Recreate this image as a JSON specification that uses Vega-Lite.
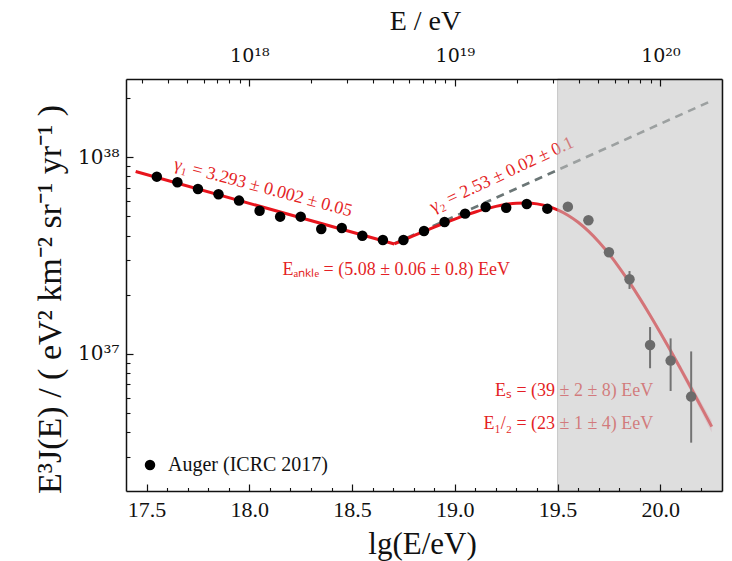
{
  "$schema": "https://vega.github.io/schema/vega-lite/v6.json",
  "width": 596,
  "height": 412,
  "autosize": {"type": "none"},
  "padding": {"left": 126, "top": 79, "right": 10, "bottom": 70},
  "background": "white",
  "config": {"view": {"stroke": null}, "font": "Liberation Serif"},
  "datasets": {
    "auger": [
      {"lg": 17.55, "flux": 7.97e37},
      {"lg": 17.65, "flux": 7.46e37},
      {"lg": 17.75, "flux": 6.90e37},
      {"lg": 17.85, "flux": 6.48e37},
      {"lg": 17.95, "flux": 6.02e37},
      {"lg": 18.05, "flux": 5.35e37},
      {"lg": 18.15, "flux": 4.99e37},
      {"lg": 18.25, "flux": 4.99e37},
      {"lg": 18.35, "flux": 4.32e37},
      {"lg": 18.45, "flux": 4.37e37},
      {"lg": 18.55, "flux": 3.99e37},
      {"lg": 18.65, "flux": 3.80e37},
      {"lg": 18.75, "flux": 3.80e37},
      {"lg": 18.85, "flux": 4.22e37},
      {"lg": 18.95, "flux": 4.69e37},
      {"lg": 19.05, "flux": 5.17e37},
      {"lg": 19.15, "flux": 5.59e37},
      {"lg": 19.25, "flux": 5.54e37},
      {"lg": 19.35, "flux": 5.79e37},
      {"lg": 19.45, "flux": 5.48e37},
      {"lg": 19.55, "flux": 5.61e37, "lo": 5.45e37, "hi": 5.77e37},
      {"lg": 19.65, "flux": 4.78e37, "lo": 4.62e37, "hi": 4.95e37},
      {"lg": 19.75, "flux": 3.29e37, "lo": 3.15e37, "hi": 3.44e37},
      {"lg": 19.85, "flux": 2.40e37, "lo": 2.14e37, "hi": 2.64e37},
      {"lg": 19.95, "flux": 1.11e37, "lo": 8.46e36, "hi": 1.37e37},
      {"lg": 20.05, "flux": 9.25e36, "lo": 6.48e36, "hi": 1.20e37},
      {"lg": 20.15, "flux": 6.07e36, "lo": 3.54e36, "hi": 1.03e37}
    ],
    "fitBelowAnkle": [
      {"lg": 17.447, "flux": 8.47e37},
      {"lg": 18.706, "flux": 3.623e37}
    ],
    "fitAboveAnkle": [
      {"lg": 18.706, "flux": 3.623e37},
      {"lg": 18.75, "flux": 3.793e37},
      {"lg": 18.8, "flux": 3.993e37},
      {"lg": 18.85, "flux": 4.201e37},
      {"lg": 18.9, "flux": 4.414e37},
      {"lg": 18.95, "flux": 4.632e37},
      {"lg": 19.0, "flux": 4.851e37},
      {"lg": 19.05, "flux": 5.065e37},
      {"lg": 19.1, "flux": 5.272e37},
      {"lg": 19.15, "flux": 5.463e37},
      {"lg": 19.2, "flux": 5.629e37},
      {"lg": 19.25, "flux": 5.759e37},
      {"lg": 19.3, "flux": 5.839e37},
      {"lg": 19.35, "flux": 5.856e37},
      {"lg": 19.4, "flux": 5.795e37},
      {"lg": 19.45, "flux": 5.646e37},
      {"lg": 19.5, "flux": 5.405e37},
      {"lg": 19.55, "flux": 5.077e37},
      {"lg": 19.6, "flux": 4.673e37},
      {"lg": 19.65, "flux": 4.211e37},
      {"lg": 19.7, "flux": 3.721e37},
      {"lg": 19.75, "flux": 3.227e37},
      {"lg": 19.8, "flux": 2.751e37},
      {"lg": 19.85, "flux": 2.311e37},
      {"lg": 19.9, "flux": 1.917e37},
      {"lg": 19.95, "flux": 1.574e37},
      {"lg": 20.0, "flux": 1.282e37},
      {"lg": 20.05, "flux": 1.038e37},
      {"lg": 20.1, "flux": 8.35e36},
      {"lg": 20.15, "flux": 6.70e36},
      {"lg": 20.2, "flux": 5.35e36},
      {"lg": 20.25, "flux": 4.27e36}
    ],
    "extension": [
      {"lg": 18.706, "flux": 3.646e37},
      {"lg": 20.24, "flux": 1.918e38}
    ],
    "band": [
      {"lg": 19.8, "lo": 2.713e37, "hi": 2.789e37},
      {"lg": 19.9, "lo": 1.878e37, "hi": 1.957e37},
      {"lg": 20.0, "lo": 1.245e37, "hi": 1.321e37},
      {"lg": 20.1, "lo": 8.01e36, "hi": 8.71e36},
      {"lg": 20.2, "lo": 5.054e36, "hi": 5.671e36},
      {"lg": 20.25, "lo": 3.983e36, "hi": 4.574e36}
    ]
  },
  "layer": [
    {
      "data": {"name": "band"},
      "mark": {"type": "area", "color": "#f3a9bb", "opacity": 0.55, "interpolate": "monotone"},
      "encoding": {
        "x": {"field": "lg", "type": "quantitative", "scale": {"domain": [17.4, 20.3], "nice": false, "zero": false}, "axis": null},
        "y": {"field": "lo", "type": "quantitative", "scale": {"type": "log", "domain": [2.01e36, 2.5e38], "nice": false}, "axis": null},
        "y2": {"field": "hi"}
      }
    },
    {
      "data": {"name": "extension"},
      "mark": {"type": "line", "color": "#6b7676", "strokeWidth": 2.6, "strokeDash": [8, 6]},
      "encoding": {
        "x": {"field": "lg", "type": "quantitative", "scale": {"domain": [17.4, 20.3], "nice": false, "zero": false},
          "axis": {"orient": "top", "values": [17.477, 17.602, 17.699, 17.778, 17.845, 17.903, 17.954, 18.301, 18.477, 18.602, 18.699, 18.778, 18.845, 18.903, 18.954, 19.301, 19.477, 19.602, 19.699, 19.778, 19.845, 19.903, 19.954],
            "labels": false, "domain": false, "grid": false, "title": null, "tickSize": -4, "tickWidth": 1.1, "tickColor": "#111", "zindex": 1}},
        "y": {"field": "flux", "type": "quantitative", "scale": {"type": "log", "domain": [2.01e36, 2.5e38], "nice": false}, "axis": null}
      }
    },
    {
      "data": {"name": "fitBelowAnkle"},
      "mark": {"type": "line", "color": "#e8141c", "strokeWidth": 3},
      "encoding": {
        "x": {"field": "lg", "type": "quantitative", "scale": {"domain": [17.4, 20.3], "nice": false, "zero": false}, "axis": null},
        "y": {"field": "flux", "type": "quantitative", "scale": {"type": "log", "domain": [2.01e36, 2.5e38], "nice": false}, "axis": null}
      }
    },
    {
      "data": {"name": "fitAboveAnkle"},
      "mark": {"type": "line", "color": "#e8141c", "strokeWidth": 3, "interpolate": "monotone"},
      "encoding": {
        "x": {"field": "lg", "type": "quantitative", "scale": {"domain": [17.4, 20.3], "nice": false, "zero": false},
          "axis": {"orient": "top", "values": [18, 19, 20],
            "labelExpr": "datum.value < 18.5 ? '10¹⁸' : datum.value < 19.5 ? '10¹⁹' : '10²⁰'",
            "labelFont": "DejaVu Serif", "labelFontSize": 19, "labelColor": "#111", "labelPadding": 21,
            "tickSize": -7, "tickWidth": 1.2, "tickColor": "#111",
            "domain": true, "domainColor": "#111", "domainWidth": 1.5, "grid": false,
            "title": "E / eV", "titleFont": "Liberation Serif", "titleFontSize": 28, "titleFontWeight": "normal", "titleColor": "#111",
            "titleX": 299, "titleY": -50, "titleBaseline": "alphabetic", "zindex": 1}},
        "y": {"field": "flux", "type": "quantitative", "scale": {"type": "log", "domain": [2.01e36, 2.5e38], "nice": false},
          "axis": {"orient": "right", "ticks": false, "labels": false, "grid": false, "title": null,
            "domain": true, "domainColor": "#111", "domainWidth": 1.5, "zindex": 1}}
      }
    },
    {
      "data": {"name": "auger"},
      "transform": [{"filter": "datum.lo != null"}],
      "mark": {"type": "rule", "color": "#111", "strokeWidth": 2},
      "encoding": {
        "x": {"field": "lg", "type": "quantitative", "scale": {"domain": [17.4, 20.3], "nice": false, "zero": false},
          "axis": {"orient": "bottom", "values": [17.6, 17.7, 17.8, 17.9, 18.1, 18.2, 18.3, 18.4, 18.6, 18.7, 18.8, 18.9, 19.1, 19.2, 19.3, 19.4, 19.6, 19.7, 19.8, 19.9, 20.1, 20.2],
            "labels": false, "domain": false, "grid": false, "title": null, "tickSize": -3.5, "tickWidth": 1.1, "tickColor": "#111", "zindex": 1}},
        "y": {"field": "lo", "type": "quantitative", "scale": {"type": "log", "domain": [2.01e36, 2.5e38], "nice": false},
          "axis": {"orient": "left", "values": [3e36, 4e36, 5e36, 6e36, 7e36, 8e36, 9e36, 2e37, 3e37, 4e37, 5e37, 6e37, 7e37, 8e37, 9e37, 2e38],
            "labels": false, "domain": false, "grid": false, "title": null, "tickSize": -4, "tickWidth": 1.1, "tickColor": "#111", "zindex": 1}},
        "y2": {"field": "hi"}
      }
    },
    {
      "data": {"name": "auger"},
      "mark": {"type": "point", "filled": true, "size": 110, "opacity": 1},
      "encoding": {
        "x": {"field": "lg", "type": "quantitative", "scale": {"domain": [17.4, 20.3], "nice": false, "zero": false},
          "axis": {"orient": "bottom", "values": [17.5, 18, 18.5, 19, 19.5, 20], "format": ".1f",
            "labelFont": "Liberation Serif", "labelFontSize": 22, "labelColor": "#111", "labelPadding": 15,
            "labelFlush": false, "labelOverlap": false,
            "tickSize": -7, "tickWidth": 1.2, "tickColor": "#111",
            "domain": true, "domainColor": "#111", "domainWidth": 1.5, "grid": false,
            "title": "lg(E/eV)", "titleFont": "Liberation Serif", "titleFontSize": 31, "titleFontWeight": "normal", "titleColor": "#111",
            "titleX": 296, "titleY": 62, "titleBaseline": "alphabetic", "zindex": 1}},
        "y": {"field": "flux", "type": "quantitative", "scale": {"type": "log", "domain": [2.01e36, 2.5e38], "nice": false},
          "axis": {"orient": "left", "values": [1e37, 1e38],
            "labelExpr": "datum.value > 5e37 ? '10³⁸' : '10³⁷'",
            "labelFont": "DejaVu Serif", "labelFontSize": 20, "labelColor": "#111", "labelPadding": 14,
            "tickSize": -7, "tickWidth": 1.2, "tickColor": "#111",
            "domain": true, "domainColor": "#111", "domainWidth": 1.5, "grid": false,
            "title": "E³J(E)  /  (   eV²  km⁻²  sr⁻¹  yr⁻¹   )", "titleFont": "Liberation Serif", "titleFontSize": 34, "titleFontWeight": "normal", "titleColor": "#111",
            "titleX": -66, "titleY": 220, "titleBaseline": "alphabetic", "titleAngle": -90, "zindex": 1}},
        "color": {"datum": "Auger (ICRC 2017)", "type": "nominal", "scale": {"range": ["#000000"]},
          "legend": {"orient": "none", "legendX": 14, "legendY": 376, "title": null, "padding": 0,
            "symbolType": "circle", "symbolSize": 110, "symbolStrokeWidth": 0,
            "labelFont": "Liberation Serif", "labelFontSize": 20, "labelColor": "#111", "labelOffset": 8}}
      }
    },
    {
      "data": {"values": [{}]},
      "mark": {"type": "text", "angle": 15, "fontSize": 18, "color": "#e41f26", "font": "Liberation Serif"},
      "encoding": {
        "x": {"datum": 18.067, "type": "quantitative", "scale": {"domain": [17.4, 20.3], "nice": false, "zero": false}, "axis": null},
        "y": {"datum": 6.98e37, "type": "quantitative", "scale": {"type": "log", "domain": [2.01e36, 2.5e38], "nice": false}, "axis": null},
        "text": {"value": "γ₁ = 3.293 ± 0.002 ± 0.05"}
      }
    },
    {
      "data": {"values": [{}]},
      "mark": {"type": "text", "angle": -25, "fontSize": 18, "color": "#e41f26", "font": "Liberation Serif"},
      "encoding": {
        "x": {"datum": 19.229, "type": "quantitative", "scale": {"domain": [17.4, 20.3], "nice": false, "zero": false}, "axis": null},
        "y": {"datum": 8.13e37, "type": "quantitative", "scale": {"type": "log", "domain": [2.01e36, 2.5e38], "nice": false}, "axis": null},
        "text": {"value": "γ₂ = 2.53 ± 0.02 ± 0.1"}
      }
    },
    {
      "data": {"values": [{}]},
      "mark": {"type": "text", "fontSize": 18, "color": "#e41f26", "font": "Liberation Serif"},
      "encoding": {
        "x": {"datum": 18.715, "type": "quantitative", "scale": {"domain": [17.4, 20.3], "nice": false, "zero": false}, "axis": null},
        "y": {"datum": 2.673e37, "type": "quantitative", "scale": {"type": "log", "domain": [2.01e36, 2.5e38], "nice": false}, "axis": null},
        "text": {"value": "Eₐₙₖₗₑ = (5.08 ± 0.06 ± 0.8) EeV"}
      }
    },
    {
      "data": {"values": [{}]},
      "mark": {"type": "text", "fontSize": 18, "color": "#e41f26", "font": "Liberation Serif", "align": "right"},
      "encoding": {
        "x": {"datum": 19.966, "type": "quantitative", "scale": {"domain": [17.4, 20.3], "nice": false, "zero": false}, "axis": null},
        "y": {"datum": 6.49e36, "type": "quantitative", "scale": {"type": "log", "domain": [2.01e36, 2.5e38], "nice": false}, "axis": null},
        "text": {"value": "Eₛ = (39 ± 2 ± 8) EeV"}
      }
    },
    {
      "data": {"values": [{}]},
      "mark": {"type": "text", "fontSize": 18, "color": "#e41f26", "font": "Liberation Serif", "align": "right"},
      "encoding": {
        "x": {"datum": 19.966, "type": "quantitative", "scale": {"domain": [17.4, 20.3], "nice": false, "zero": false}, "axis": null},
        "y": {"datum": 4.406e36, "type": "quantitative", "scale": {"type": "log", "domain": [2.01e36, 2.5e38], "nice": false}, "axis": null},
        "text": {"value": "E₁/₂ = (23 ± 1 ± 4) EeV"}
      }
    },
    {
      "data": {"values": [{}]},
      "mark": {"type": "rect", "color": "#c4c4c4", "opacity": 0.55, "stroke": "#9a9a9a", "strokeWidth": 1, "strokeOpacity": 1},
      "encoding": {
        "x": {"datum": 19.5, "type": "quantitative", "scale": {"domain": [17.4, 20.3], "nice": false, "zero": false}, "axis": null},
        "x2": {"datum": 20.3},
        "y": {"datum": 2.01e36, "type": "quantitative", "scale": {"type": "log", "domain": [2.01e36, 2.5e38], "nice": false}, "axis": null},
        "y2": {"datum": 2.5e38}
      }
    }
  ],
  "resolve": {"axis": {"x": "independent", "y": "independent"}}
}
